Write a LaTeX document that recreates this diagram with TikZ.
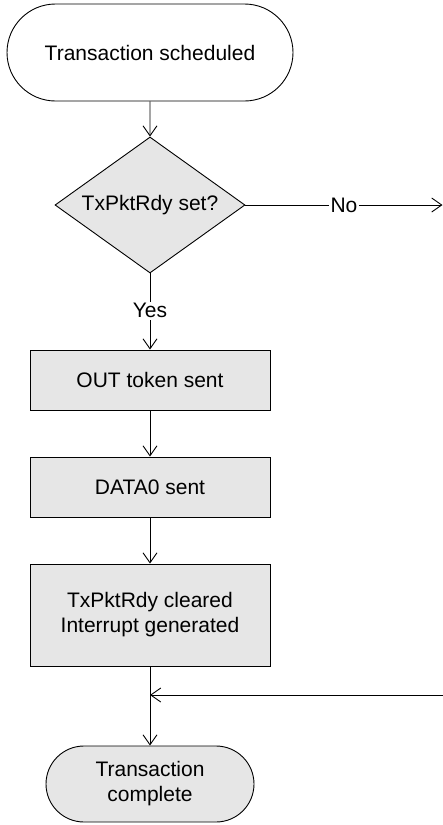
\documentclass[tikz,border=0pt]{standalone}
\usepackage{fontspec}
\setmainfont{Liberation Sans}
\usetikzlibrary{shapes.geometric,shapes.misc,arrows.meta}
\definecolor{boxgray}{RGB}{230,230,230}
\tikzset{
  every node/.style={font=\fontsize{21}{25}\selectfont, align=center, inner sep=0pt},
  term/.style={rounded rectangle, draw, line width=0.9pt},
  proc/.style={rectangle, draw, fill=boxgray, line width=0.9pt, minimum width=240pt},
  dec/.style={diamond, draw, fill=boxgray, line width=0.9pt, minimum width=190pt, minimum height=136pt, aspect=1.4},
  conn/.style={line width=0.9pt, -{Straight Barb[length=10pt,width=14pt,line width=0.9pt]}},
  lbl/.style={fill=white, inner sep=1.5pt}
}
\begin{document}
\begin{tikzpicture}[x=1pt,y=-1pt]
\useasboundingbox (0,0) rectangle (443,825);
\node[term, minimum width=286pt, minimum height=97pt] (start) at (150,52.5) {Transaction scheduled};
\node[dec] (d) at (150,205) {TxPktRdy set?};
\node[proc, minimum height=60pt] (b1) at (150,380) {OUT token sent};
\node[proc, minimum height=60pt] (b2) at (150,487) {DATA0 sent};
\node[proc, minimum height=102pt] (b3) at (150,615) {TxPktRdy cleared\\Interrupt generated};
\node[term, fill=boxgray, minimum width=208pt, minimum height=76pt] (end) at (150,784) {Transaction\\complete};
\coordinate (noend) at (442.5,205);
\coordinate (back) at (443,695);
\coordinate (merge) at (150,695);
\draw[conn] (start) -- (d);
\draw[conn] (d.east) -- node[lbl] {No} (noend);
\draw[conn] (d.south) -- node[lbl, pos=0.49] {Yes} (b1.north);
\draw[conn] (b1) -- (b2);
\draw[conn] (b2) -- (b3);
\draw[conn] (back) -- (merge);
\draw[conn] (b3.south) -- (end.north);
\end{tikzpicture}
\end{document}
